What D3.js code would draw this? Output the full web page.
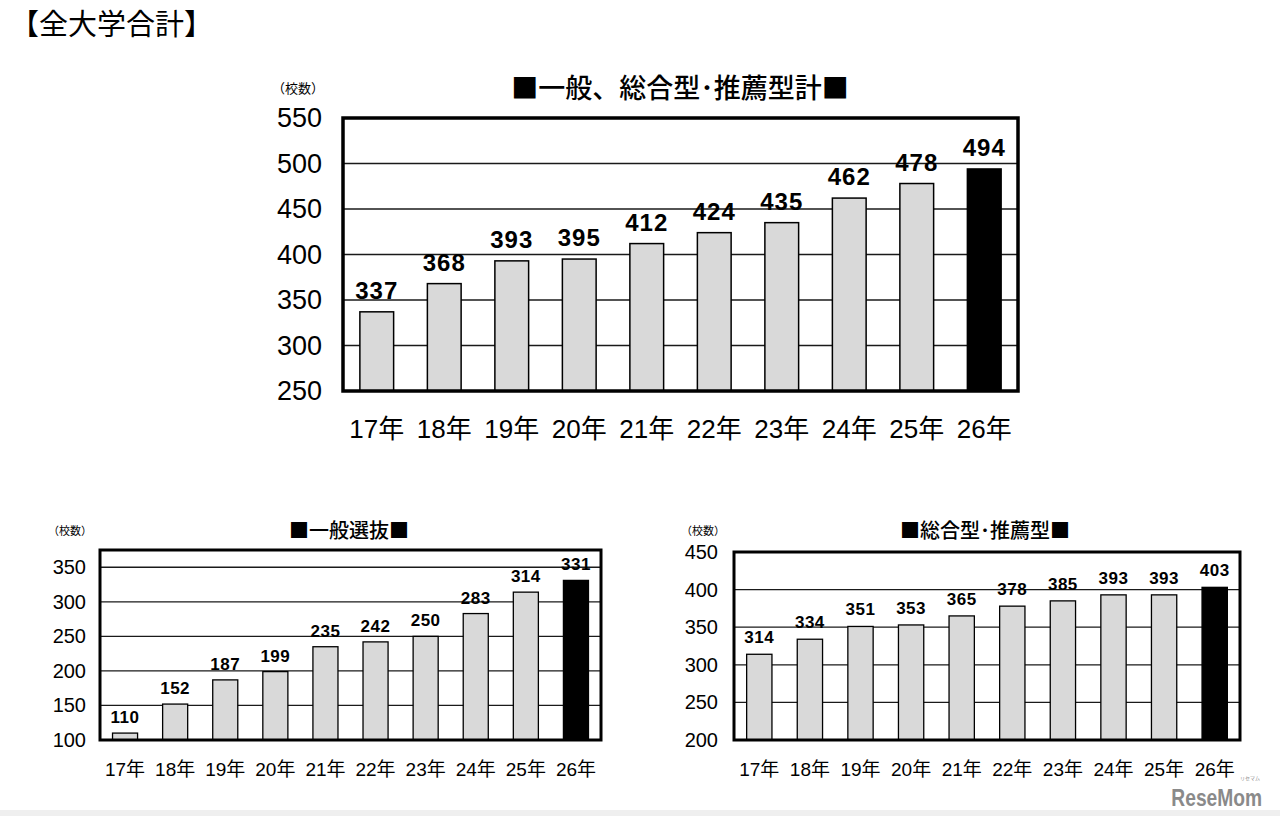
<!DOCTYPE html>
<html>
<head>
<meta charset="utf-8">
<script src="https://cdn.jsdelivr.net/npm/d3@7"></script>
<style>
  html, body { margin: 0; padding: 0; background: #fff; }
  svg { display: block; }
  text { font-family: "Liberation Sans", Arial, "Noto Sans CJK JP", sans-serif; fill: #000; }
  .jp { font-family: "Noto Sans CJK JP", sans-serif; }
</style>
</head>
<body>
<svg id="chart" width="1280" height="816"></svg>
<script>
// ---- data ----
const years = ["17年", "18年", "19年", "20年", "21年", "22年", "23年", "24年", "25年", "26年"];
const totalValues = [337, 368, 393, 395, 412, 424, 435, 462, 478, 494];
const generalValues = [110, 152, 187, 199, 235, 242, 250, 283, 314, 331];
const comprehensiveValues = [314, 334, 351, 353, 365, 378, 385, 393, 393, 403];
const totalTicks = [250, 300, 350, 400, 450, 500, 550];
const generalTicks = [100, 150, 200, 250, 300, 350];
const comprehensiveTicks = [200, 250, 300, 350, 400, 450];

const pageTitle = "【全大学合計】";
const totalTitle = "■一般、総合型･推薦型計■";
const generalTitle = "■一般選抜■";
const comprehensiveTitle = "■総合型･推薦型■";
const unitLabel = "（校数）";

const svg = d3.select("#chart");

// page title
svg.append("text").attr("class", "jp")
  .attr("x", 10).attr("y", 35)
  .attr("font-size", 29).attr("font-weight", 400)
  .text(pageTitle);

function drawChart(cfg) {
  const g = svg.append("g");
  const x = d3.scaleBand().domain(cfg.categories)
    .range([cfg.left, cfg.right]).paddingInner(0.5).paddingOuter(0.25);
  const y = d3.scaleLinear().domain(cfg.domain).range([cfg.bottom, cfg.top]);

  // gridlines
  g.append("g").selectAll("line").data(cfg.ticks.filter(t => t > cfg.domain[0] && t < cfg.domain[1]))
    .join("line")
    .attr("x1", cfg.left).attr("x2", cfg.right)
    .attr("y1", d => y(d)).attr("y2", d => y(d))
    .attr("stroke", "#1a1a1a").attr("stroke-width", cfg.gridW);

  // bars
  const last = cfg.categories.length - 1;
  g.append("g").selectAll("rect").data(cfg.values)
    .join("rect")
    .attr("x", (d, i) => x(cfg.categories[i]))
    .attr("width", x.bandwidth())
    .attr("y", d => y(d))
    .attr("height", d => y(cfg.domain[0]) - y(d))
    .attr("fill", (d, i) => i === last ? "#000" : "#d9d9d9")
    .attr("stroke", "#000").attr("stroke-width", cfg.barStroke);

  // value labels
  g.append("g").selectAll("text").data(cfg.values)
    .join("text")
    .attr("x", (d, i) => x(cfg.categories[i]) + x.bandwidth() / 2)
    .attr("y", d => y(d) - cfg.labelGap)
    .attr("text-anchor", "middle")
    .attr("font-size", cfg.labelSize).attr("font-weight", "bold")
    .attr("letter-spacing", cfg.labelSpacing)
    .text(d => d);

  // frame
  g.append("rect")
    .attr("x", cfg.left).attr("y", cfg.top)
    .attr("width", cfg.right - cfg.left).attr("height", cfg.bottom - cfg.top)
    .attr("fill", "none").attr("stroke", "#000").attr("stroke-width", cfg.frameW);

  // y axis labels
  const yAxis = d3.axisLeft(y).tickValues(cfg.ticks).tickSize(0).tickPadding(0);
  const ya = g.append("g").attr("transform", `translate(${cfg.yLabelX},0)`).call(yAxis);
  ya.select(".domain").remove();
  ya.selectAll("text").attr("font-size", cfg.tickSize)
    .attr("font-family", "'Liberation Sans', Arial, sans-serif").attr("fill", "#000");

  // x axis labels
  const xAxis = d3.axisBottom(x).tickSize(0).tickPadding(0);
  const xa = g.append("g").attr("transform", `translate(0,${cfg.xLabelY})`).call(xAxis);
  xa.select(".domain").remove();
  xa.selectAll("text").attr("font-size", cfg.xSize)
    .attr("font-family", "'Liberation Sans', Arial, 'Noto Sans CJK JP', sans-serif")
    .attr("fill", "#000").attr("dy", 0);

  // chart title
  g.append("text").attr("class", "jp")
    .attr("x", cfg.titleX).attr("y", cfg.titleY)
    .attr("text-anchor", "middle")
    .attr("font-size", cfg.titleSize).attr("font-weight", cfg.titleWeight)
    .text(cfg.title);

  // unit label
  g.append("text").attr("class", "jp")
    .attr("x", cfg.unitX).attr("y", cfg.unitY)
    .attr("font-size", cfg.unitSize)
    .text(unitLabel);
}

drawChart({
  categories: years, values: totalValues, ticks: totalTicks, domain: [250, 550],
  left: 343, right: 1018, top: 118, bottom: 391,
  gridW: 1.6, barStroke: 1.5, frameW: 3.5,
  labelGap: 13, labelSize: 24, labelSpacing: 1,
  yLabelX: 322, tickSize: 27,
  xLabelY: 438, xSize: 26,
  title: totalTitle, titleX: 680, titleY: 98, titleSize: 27, titleWeight: 500,
  unitX: 272, unitY: 93, unitSize: 13
});

drawChart({
  categories: years, values: generalValues, ticks: generalTicks, domain: [100, 375],
  left: 100, right: 601, top: 550, bottom: 740,
  gridW: 1.3, barStroke: 1.3, frameW: 3,
  labelGap: 10, labelSize: 17, labelSpacing: 0.5,
  yLabelX: 86, tickSize: 20,
  xLabelY: 776, xSize: 19,
  title: generalTitle, titleX: 349, titleY: 538, titleSize: 20, titleWeight: 500,
  unitX: 48, unitY: 535, unitSize: 11
});

drawChart({
  categories: years, values: comprehensiveValues, ticks: comprehensiveTicks, domain: [200, 450],
  left: 734, right: 1240, top: 552, bottom: 740,
  gridW: 1.3, barStroke: 1.3, frameW: 3,
  labelGap: 11, labelSize: 17, labelSpacing: 0.5,
  yLabelX: 718, tickSize: 20,
  xLabelY: 776, xSize: 19,
  title: comprehensiveTitle, titleX: 985, titleY: 538, titleSize: 20, titleWeight: 500,
  unitX: 681, unitY: 535, unitSize: 11
});

// watermark & bottom strip
svg.append("rect").attr("x", 0).attr("y", 810).attr("width", 1280).attr("height", 6).attr("fill", "#efefef");
svg.append("text")
  .attr("transform", "translate(1262,806) scale(0.8,1)")
  .attr("text-anchor", "end")
  .attr("font-size", 24).attr("font-weight", "bold")
  .style("fill", "#8a8a8a")
  .text("ReseMom");
svg.append("text").attr("class", "jp")
  .attr("x", 1250).attr("y", 780).attr("text-anchor", "middle")
  .attr("font-size", 5).style("fill", "#8a8a8a")
  .text("リセマム");
</script>
</body>
</html>
